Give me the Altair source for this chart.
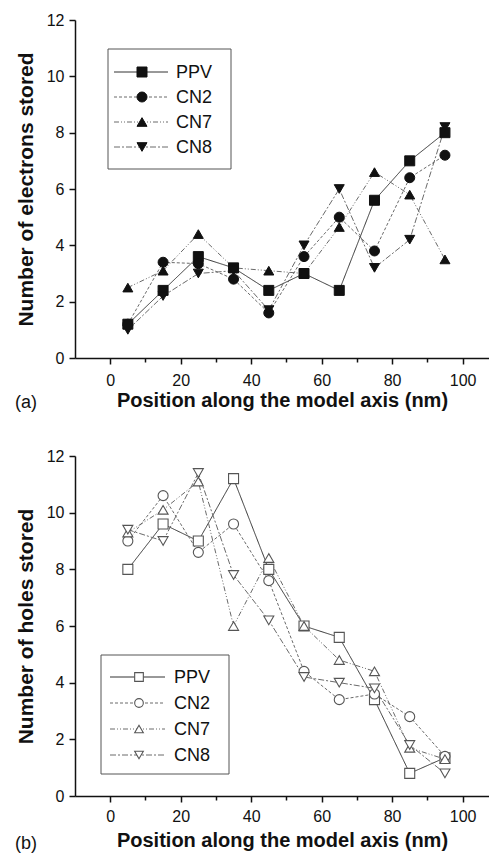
import altair as alt
import pandas as pd

# ---------------- data ----------------
positions = [5, 15, 25, 35, 45, 55, 65, 75, 85, 95]
series_names = ["PPV", "CN2", "CN7", "CN8"]

electrons_ppv = [1.2, 2.4, 3.6, 3.2, 2.4, 3.0, 2.4, 5.6, 7.0, 8.0]
electrons_cn2 = [1.2, 3.4, 3.35, 2.8, 1.6, 3.6, 5.0, 3.8, 6.4, 7.2]
electrons_cn7 = [2.5, 3.1, 4.4, 3.2, 3.1, 3.0, 4.65, 6.6, 5.8, 3.5]
electrons_cn8 = [1.0, 2.2, 3.0, 3.1, 1.7, 4.0, 6.0, 3.2, 4.2, 8.2]

holes_ppv = [8.0, 9.6, 9.0, 11.2, 8.0, 6.0, 5.6, 3.4, 0.8, 1.35]
holes_cn2 = [9.0, 10.6, 8.6, 9.6, 7.6, 4.4, 3.4, 3.6, 2.8, 1.4]
holes_cn7 = [9.3, 10.1, 11.1, 6.0, 8.4, 6.0, 4.8, 4.4, 1.7, 1.3]
holes_cn8 = [9.4, 9.0, 11.4, 7.8, 6.2, 4.2, 4.0, 3.8, 1.8, 0.8]

x_title = "Position along the model axis (nm)"
y_titles = ["Number of electrons stored", "Number of holes stored"]
panel_labels = ["(a)", "(b)"]
y_ticks = [0, 2, 4, 6, 8, 10, 12]
x_ticks = [0, 10, 20, 30, 40, 50, 60, 70, 80, 90, 100]

# ---------------- styles ----------------
FONT = "Liberation Sans"
dash_patterns = [[1, 0], [3, 2], [5, 2, 1, 2, 1, 2], [6, 2, 2, 2]]
line_colors = ["#333333", "#6a6a6a", "#6a6a6a", "#6a6a6a"]
plot_shapes = ["square", "circle", "triangle-up", "triangle-down"]
PLOT_W = 414


def make_panel(vals, filled, ytitle, label, height, label_xy,
               xlabel_pad, xtitle_pad, box, entry_y0, entry_dy, line_x, mark_x,
               text_x, legend_size):
    rows = []
    for name, v in zip(series_names, vals):
        for p, y in zip(positions, v):
            rows.append({"pos": p, "val": y, "series": name})
    df = pd.DataFrame(rows)

    xenc = alt.X("pos:Q", scale=alt.Scale(domain=[-10, 107.5], nice=False, zero=False),
                 axis=alt.Axis(values=x_ticks, title=x_title,
                               labelExpr="datum.value % 20 === 0 ? datum.label : ''",
                               tickSize={"condition": {"test": "datum.value % 20 === 0", "value": 6}, "value": 4},
                               labelPadding=xlabel_pad, titlePadding=xtitle_pad,
                               labelOverlap=False))
    yenc = alt.Y("val:Q", scale=alt.Scale(domain=[0, 12], nice=False),
                 axis=alt.Axis(values=y_ticks, title=ytitle, tickSize=6,
                               labelPadding=5, titlePadding=10))

    color_scale = alt.Scale(domain=series_names, range=line_colors)
    dash_scale = alt.Scale(domain=series_names, range=dash_patterns)
    shape_scale = alt.Scale(domain=series_names, range=plot_shapes)

    lines = alt.Chart(df).mark_line(strokeWidth=1).encode(
        x=xenc, y=yenc,
        color=alt.Color("series:N", scale=color_scale, legend=None),
        strokeDash=alt.StrokeDash("series:N", scale=dash_scale, legend=None),
    )
    if filled:
        mstyle = dict(filled=True, fill="#111111", stroke="#111111", strokeWidth=1, opacity=1)
    else:
        mstyle = dict(filled=False, fill="white", stroke="#555555", strokeWidth=1.1, opacity=1)
    pts = alt.Chart(df).mark_point(size=100, **mstyle).encode(
        x="pos:Q", y="val:Q",
        shape=alt.Shape("series:N", scale=shape_scale, legend=None),
    )

    layers = [lines, pts]

    # ---- legend drawn as marks ----
    legend_df = pd.DataFrame({"series": series_names})
    frame = alt.Chart(pd.DataFrame({"k": [0]})).mark_rect(
        fill="white", stroke="#555555", strokeWidth=1
    ).encode(x=alt.value(box[0]), x2=alt.value(box[1]), y=alt.value(box[2]), y2=alt.value(box[3]))
    layers.append(frame)
    for i, name in enumerate(series_names):
        yy = entry_y0 + i * entry_dy
        base = alt.Chart(legend_df).transform_filter(alt.datum.series == name)
        layers.append(base.mark_rule(strokeWidth=1, color=line_colors[i],
                                     strokeDash=dash_patterns[i]).encode(
            x=alt.value(line_x[0]), x2=alt.value(line_x[1]), y=alt.value(yy)))
        layers.append(base.mark_point(size=legend_size, shape=plot_shapes[i], **mstyle).encode(
            x=alt.value(mark_x), y=alt.value(yy)))
        layers.append(base.mark_text(font=FONT, fontSize=18, color="#111111",
                                     align="left", baseline="middle").encode(
            text="series:N", x=alt.value(text_x), y=alt.value(yy + 1)))

    txt = alt.Chart(pd.DataFrame({"t": [label]})).mark_text(
        font=FONT, fontSize=18, color="#111111", align="center", baseline="middle"
    ).encode(text="t:N", x=alt.value(label_xy[0]), y=alt.value(label_xy[1]))
    layers.append(txt)

    return alt.layer(*layers).properties(width=PLOT_W, height=height)


top = make_panel([electrons_ppv, electrons_cn2, electrons_cn7, electrons_cn8], True,
                 y_titles[0], panel_labels[0], 338, (-49, 383), 8, 2,
                 (33, 156, 29, 149), 52, 25, (39, 93), 67, 101, 100)
bottom = make_panel([holes_ppv, holes_cn2, holes_cn7, holes_cn8], False,
                    y_titles[1], panel_labels[1], 340, (-49, 388), 6, 6,
                    (26, 154, 199, 318), 221, 26, (35, 90), 64, 99, 75)

chart = alt.vconcat(top, bottom, spacing=36).properties(
    padding={"left": 7, "top": 4, "right": 0, "bottom": 0}
).configure(font=FONT).configure_view(
    stroke=None
).configure_axis(
    labelFont=FONT, titleFont=FONT, labelFontSize=16, titleFontSize=20, titleFontWeight="bold",
    labelColor="#111111", titleColor="#111111", domainColor="#111111", tickColor="#111111",
    domainWidth=1.5, tickWidth=1.5, grid=False
).configure_axisY(titleFontSize=21)

chart.save("out.html", embed_options={"renderer": "svg", "actions": False})
